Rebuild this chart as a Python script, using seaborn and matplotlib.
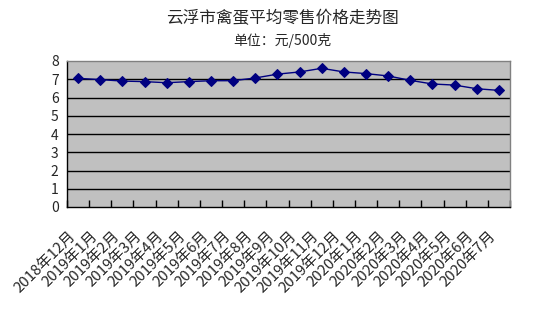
import matplotlib
matplotlib.use("Agg")
import matplotlib.pyplot as plt
import matplotlib.transforms as mtransforms
import seaborn as sns
import pandas as pd
import numpy as np

months = ["2018年12月", "2019年1月", "2019年2月", "2019年3月", "2019年4月", "2019年5月",
          "2019年6月", "2019年7月", "2019年8月", "2019年9月", "2019年10月", "2019年11月",
          "2019年12月", "2020年1月", "2020年2月", "2020年3月", "2020年4月", "2020年5月",
          "2020年6月", "2020年7月"]
prices = [7.05, 6.98, 6.90, 6.87, 6.81, 6.87, 6.92, 6.92, 7.07, 7.28,
          7.40, 7.60, 7.40, 7.31, 7.18, 6.94, 6.74, 6.68, 6.48, 6.39]
yticks = [0, 1, 2, 3, 4, 5, 6, 7, 8]

sns.set_theme(style="white")
plt.rcParams['font.family'] = ['Noto Sans CJK SC', 'DejaVu Sans']

df = pd.DataFrame({"idx": np.arange(len(months)), "price": prices})

fig = plt.figure(figsize=(5.49, 3.18), dpi=100)
ax = fig.add_axes([67/549, 1-207/318, (510-67)/549, (207-61)/318])
ax.set_facecolor("#C0C0C0")

for y in yticks[1:-1]:
    ax.axhline(y, color="black", lw=1, zorder=1)

sns.lineplot(data=df, x="idx", y="price", ax=ax, color="#000080", lw=1,
             marker="D", markersize=5.5, markeredgecolor="#000080", zorder=3)

ax.set_xlim(-0.5, len(months) - 0.5)
ax.set_ylim(0, 8)
ax.set_yticks(yticks)
ax.set_yticklabels([str(v) for v in yticks], fontsize=10)
ax.set_xticks(np.arange(len(months)))
ax.set_xticklabels(months, rotation=45, ha="right", va="top", rotation_mode="anchor", fontsize=10.8)
ax.set_xticks(np.arange(-0.5, len(months), 1), minor=True)
ax.tick_params(axis="x", which="major", length=0, pad=0)
ax.tick_params(axis="x", which="minor", length=5, direction="in", color="black", width=1, bottom=True)
ax.tick_params(axis="y", length=0, pad=6)
ax.set_xlabel("")
ax.set_ylabel("")

offset = mtransforms.ScaledTranslation(-10/100, -22/100, fig.dpi_scale_trans)
for lab in ax.get_xticklabels():
    lab.set_transform(lab.get_transform() + offset)

for s in ["left", "bottom"]:
    ax.spines[s].set_color("black")
    ax.spines[s].set_linewidth(1)
for s in ["top", "right"]:
    ax.spines[s].set_color("#808080")
    ax.spines[s].set_linewidth(1)

fig.text(282/549, 1-19/318, "云浮市禽蛋平均零售价格走势图", ha="center", va="center", fontsize=12)
fig.text(282/549, 1-41/318, "单位：元/500克", ha="center", va="center", fontsize=10)

fig.savefig("out.png", dpi=100, facecolor="white")
